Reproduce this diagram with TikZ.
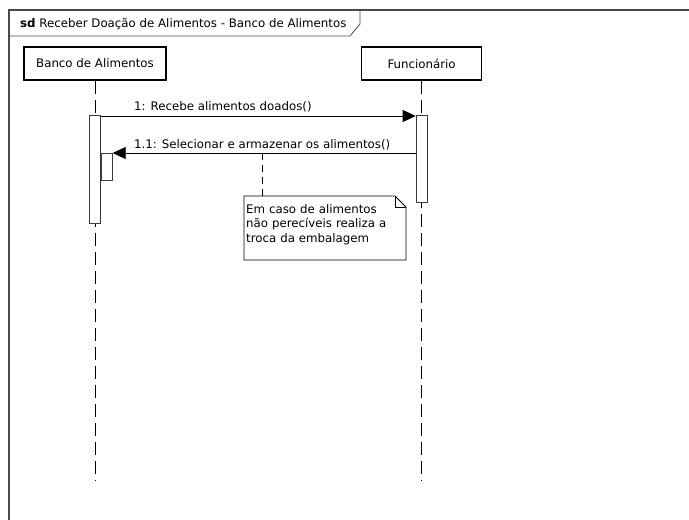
\documentclass[tikz,border=0pt]{standalone}
\usepackage{fontspec}
\setmainfont{DejaVu Sans}
\usepackage{tikz}
\usetikzlibrary{
  arrows.meta,
  positioning,
  calc
}
\definecolor{sdFrame}{HTML}{4A4A4A}
\definecolor{sdAct}{HTML}{3C3C3C}
\definecolor{sdInk}{HTML}{000000}
\tikzset{
  sdfont/.style={font=\fontsize{11.8}{14.5}\selectfont},
  frameline/.style={draw=sdFrame, line width=1.4pt},
  tabline/.style={draw=sdFrame, line width=0.8pt},
  lifehead/.style={
    draw=sdInk, line width=1.6pt, fill=white, minimum height=33pt,
    inner sep=0pt, sdfont
  },
  lifeline/.style={draw=sdInk, line width=0.8pt, dash pattern=on 13pt off 6pt},
  activation/.style={draw=sdAct, line width=0.8pt, fill=white, minimum width=11pt, inner sep=0pt},
  msg/.style={-{Triangle[length=13pt, width=12pt]}, draw=sdInk, line width=0.8pt},
  msglabel/.style={sdfont, inner sep=0pt, anchor=base west},
  noteline/.style={draw=sdInk, line width=0.8pt, dash pattern=on 7pt off 5pt},
  notebox/.style={draw=sdInk, line width=0.8pt, fill=white},
  notetext/.style={sdfont, text width=158pt, align=left, inner sep=0pt, anchor=base west}
}

\begin{document}
\begin{tikzpicture}[x=1pt, y=-1pt]
  \clip (0,0) rectangle (689,520);
  \fill[white] (0,0) rectangle (689,520);

  \draw[frameline] (9,520) -- (9,10) -- (689,10);
  \draw[tabline] (9,36) -- (350,36) -- (360,24) -- (360,10);
  \node[msglabel] (title) at (20,27) {\textbf{sd} Receber Doação de Alimentos - Banco de Alimentos};

  \node[lifehead, minimum width=142pt] (banco) at (95,63.5) {Banco de Alimentos};
  \node[lifehead, minimum width=120pt, right=194pt of banco] (func) {Funcionário};

  \coordinate (bottom) at (0,480);
  \draw[lifeline] (banco.south) -- (banco.south |- bottom);
  \draw[lifeline] (func.south) -- (func.south |- bottom);

  \node[activation, minimum height=108pt, anchor=north] (bancoact) at (95,115) {};
  \node[activation, minimum height=27pt, anchor=north west] (nestact) at (bancoact.east |- 0,153) {};
  \node[activation, minimum height=87pt, anchor=north] (funcact) at (func.south |- 0,115) {};

  \draw[msg] ([yshift=-1pt]bancoact.north east) -- ([yshift=-1pt]funcact.north west);
  \node[msglabel] (m1lab) at (134,110) {1: Recebe alimentos doados()};

  \draw[msg] (funcact.west |- nestact.north) -- (nestact.north east);
  \node[msglabel] (m2lab) at (134,148) {1.1: Selecionar e armazenar os alimentos()};

  \coordinate (notenw) at (244,196);
  \coordinate (notese) at (406,260);
  \coordinate (notepin) at (262,153);
  \draw[noteline] (notepin) -- (notepin |- notenw);
  \draw[notebox] (notenw) -- ([xshift=-11pt]notese |- notenw) -- ([yshift=-11pt]notese |- notenw)
    -- (notese) -- (notenw |- notese) -- cycle;
  \draw[notebox, fill=none] ([xshift=-11pt]notese |- notenw) -- ([xshift=-11pt, yshift=-11pt]notese |- notenw)
    -- ([yshift=-11pt]notese |- notenw);
  \node[notetext] (note) at (246,213) {Em caso de alimentos\\não perecíveis realiza a\\troca da embalagem};
\end{tikzpicture}
\end{document}
